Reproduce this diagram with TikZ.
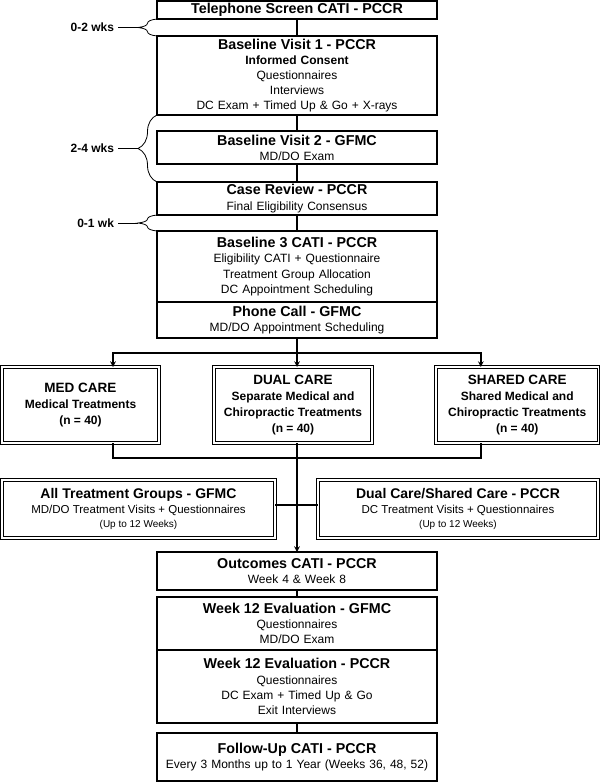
\documentclass[tikz,border=0pt]{standalone}
\usepackage{fontspec}
\setmainfont{Liberation Sans}
\usetikzlibrary{positioning, arrows, decorations.pathreplacing}

\newcommand{\boxtitle}[1]{{\fontsize{14.3}{16}\selectfont\bfseries #1}}
\newcommand{\caretitle}[1]{{\fontsize{13.5}{16}\selectfont\bfseries #1}}
\newcommand{\smallnote}[1]{{\fontsize{10}{12}\selectfont #1}}

\begin{document}
\begin{tikzpicture}[
    x=1pt, y=-1pt,
    mainbox/.style={draw, line width=1.8pt, rectangle, inner sep=0pt, outer sep=0pt,
        minimum width=280pt, text width=276pt, align=center,
        font=\fontsize{12}{15.2}\selectfont},
    carebox/.style={draw, double, double distance=1.6pt, line width=0.9pt,
        inner sep=0pt, outer sep=0pt, minimum height=76pt, align=center,
        font=\fontsize{12}{16}\selectfont\bfseries},
    sidebox/.style={draw, double, double distance=1.6pt, line width=0.9pt,
        inner sep=0pt, outer sep=0pt, minimum height=58pt, align=center,
        font=\fontsize{11.5}{14.5}\selectfont},
    gaplabel/.style={font=\fontsize{12}{14}\selectfont\bfseries, anchor=east,
        inner sep=0pt, outer xsep=4pt},
    brace/.style={decorate, decoration={brace, amplitude=19pt}, line width=0.8pt},
    link/.style={line width=1.5pt},
    arrow/.style={line width=1.5pt,->,>=stealth}
]
\useasboundingbox (0,0) rectangle (600,782);

% main column, top part
\node[mainbox, minimum height=18pt] (tel) at (297,10) {\boxtitle{Telephone Screen CATI - PCCR}};
\node[mainbox, minimum height=79pt, below=17pt of tel] (bv1) {\boxtitle{Baseline Visit 1 - PCCR}\\
    \textbf{Informed Consent}\\ Questionnaires\\ Interviews\\ DC Exam + Timed Up \& Go + X-rays};
\node[mainbox, minimum height=33pt, below=16pt of bv1] (bv2) {\boxtitle{Baseline Visit 2 - GFMC}\\ MD/DO Exam};
\node[mainbox, minimum height=33pt, below=18pt of bv2] (crev) {\boxtitle{Case Review - PCCR}\\ Final Eligibility Consensus};
\node[mainbox, minimum height=71pt, below=16pt of crev] (b3) {\boxtitle{Baseline 3 CATI - PCCR}\\
    Eligibility CATI + Questionnaire\\ Treatment Group Allocation\\ DC Appointment Scheduling};
\node[mainbox, minimum height=36pt, below=0pt of b3] (phone) {\boxtitle{Phone Call - GFMC}\\ MD/DO Appointment Scheduling};

% time gaps
\node[gaplabel] (lblA) at (118,27.5) {0-2 wks};
\node[gaplabel] (lblB) at (118,148.5) {2-4 wks};
\node[gaplabel] (lblC) at (118,223) {0-1 wk};
\coordinate (tipA) at (138,27.5);
\coordinate (tipB) at (138,148.5);
\coordinate (tipC) at (138,223);
\draw[brace] (bv1.north west) -- (tel.south west);
\draw[brace] (crev.north west) -- (bv1.south west);
\draw[brace] (b3.north west) -- (crev.south west);
\draw[line width=0.8pt] (tipA) -- (lblA);
\draw[line width=0.8pt] (tipB) -- (lblB);
\draw[line width=0.8pt] (tipC) -- (lblC);

% treatment groups
\node[carebox, minimum width=157pt] (med) at (80.5,405) {\caretitle{MED CARE}\\ Medical Treatments\\ (n = 40)};
\node[carebox, minimum width=158pt] (dual) at (293,405) {\caretitle{DUAL CARE}\\ Separate Medical and\\ Chiropractic Treatments\\ (n = 40)};
\node[carebox, minimum width=162.5pt] (shared) at (517.25,405) {\caretitle{SHARED CARE}\\ Shared Medical and\\ Chiropractic Treatments\\ (n = 40)};

% treatment visits
\node[sidebox, minimum width=273pt] (allgrp) at (138.5,509) {{\fontsize{14}{16}\selectfont\bfseries All Treatment Groups - GFMC}\\
    MD/DO Treatment Visits + Questionnaires\\ \smallnote{(Up to 12 Weeks)}};
\node[sidebox, minimum width=280pt] (dcsc) at (458,509) {{\fontsize{14}{16}\selectfont\bfseries Dual Care/Shared Care - PCCR}\\
    DC Treatment Visits + Questionnaires\\ \smallnote{(Up to 12 Weeks)}};

% main column, bottom part
\node[mainbox, minimum height=38pt] (outc) at (297,571) {\boxtitle{Outcomes CATI - PCCR}\\ Week 4 \& Week 8};
\node[mainbox, minimum height=53pt, below=7pt of outc] (w12g) {\boxtitle{Week 12 Evaluation - GFMC}\\ Questionnaires\\ MD/DO Exam};
\node[mainbox, minimum height=73pt, below=0pt of w12g] (w12p) {\boxtitle{Week 12 Evaluation - PCCR}\\
    Questionnaires\\ DC Exam + Timed Up \& Go\\ Exit Interviews};
\node[mainbox, minimum height=48pt, below=10pt of w12p] (fup) {\boxtitle{Follow-Up CATI - PCCR}\\ Every 3 Months up to 1 Year (Weeks 36, 48, 52)};

% connectors
\coordinate (split) at (297,353);
\coordinate (merge) at (297,458);
\draw[link] (tel) -- (bv1);
\draw[link] (bv1) -- (bv2);
\draw[link] (bv2) -- (crev);
\draw[link] (crev) -- (b3);
\draw[link] (phone) -- (split);
\draw[arrow] (split) -| ([xshift=32.5pt]med.north);
\draw[arrow] (split) -- ([xshift=4pt]dual.north);
\draw[arrow] (split) -| ([xshift=-36.5pt]shared.north);
\draw[link] ([xshift=32.5pt]med.south) |- (merge) -| ([xshift=-36.5pt]shared.south);
\draw[link] ([xshift=4pt]dual.south) -- (merge);
\draw[link] ([yshift=4pt]allgrp.east) -- ([yshift=4pt]dcsc.west);
\draw[arrow] (merge) -- (outc);
\draw[link] (outc) -- (w12g);
\draw[link] (w12p) -- (fup);

\end{tikzpicture}
\end{document}
